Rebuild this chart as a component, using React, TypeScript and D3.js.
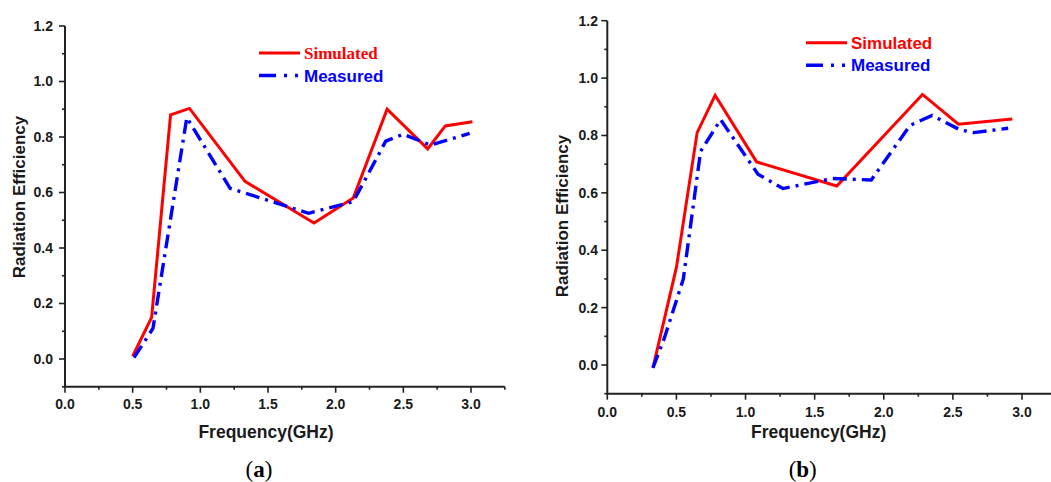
import React, { useEffect, useRef } from "react";
import * as d3 from "d3";

// ---- data ----
const simA_x = [0.5, 0.64, 0.78, 0.92, 1.33, 1.84, 2.13, 2.38, 2.68, 2.81, 3.01];
const simA_y = [0.01, 0.15, 0.88, 0.903, 0.64, 0.49, 0.58, 0.9, 0.757, 0.84, 0.855];
const measA_x = [0.51, 0.65, 0.9, 1.22, 1.8, 2.13, 2.37, 2.5, 2.7, 2.99];
const measA_y = [0.005, 0.11, 0.87, 0.615, 0.525, 0.567, 0.785, 0.81, 0.771, 0.813];

const simB_x = [0.33, 0.5, 0.65, 0.78, 1.08, 1.66, 2.28, 2.54, 2.93];
const simB_y = [-0.01, 0.34, 0.81, 0.94, 0.708, 0.624, 0.943, 0.839, 0.857];
const measB_x = [0.33, 0.41, 0.55, 0.675, 0.82, 1.09, 1.27, 1.63, 1.91, 2.19, 2.35, 2.55, 2.65, 2.9];
const measB_y = [-0.01, 0.09, 0.3, 0.745, 0.855, 0.665, 0.615, 0.65, 0.645, 0.835, 0.87, 0.82, 0.81, 0.825];

const xTicks = [0, 0.5, 1.0, 1.5, 2.0, 2.5, 3.0];
const yTicks = [0, 0.2, 0.4, 0.6, 0.8, 1.0, 1.2];
const seriesNames = ["Simulated", "Measured"];
const captions = ["a", "b"];

const SANS = "'Liberation Sans', Arial, sans-serif";
const SERIF = "'Liberation Serif', 'Times New Roman', serif";

type Panel = {
  x0: number; x1: number; yTop: number; yZero: number;
  sim: [number[], number[]]; meas: [number[], number[]];
  xLabelBase: number; yLabelRight: number;
  xTitleX: number; xTitleY: number; yTitleX: number; yTitleY: number;
  capX: number; capY: number;
  legX: number; legY: number; caption: string; serifSim: boolean;
};

const panels: Panel[] = [
  {
    x0: 65, x1: 471, yTop: 26, yZero: 359,
    sim: [simA_x, simA_y], meas: [measA_x, measA_y],
    xLabelBase: 409, yLabelRight: 53,
    xTitleX: 266, xTitleY: 438, yTitleX: 19, yTitleY: 197,
    capX: 259, capY: 477, legX: 259, legY: 53, caption: captions[0], serifSim: true,
  },
  {
    x0: 607.3, x1: 1022, yTop: 20.7, yZero: 365,
    sim: [simB_x, simB_y], meas: [measB_x, measB_y],
    xLabelBase: 417, yLabelRight: 598,
    xTitleX: 818.7, xTitleY: 438, yTitleX: 562, yTitleY: 216,
    capX: 802.7, capY: 477, legX: 806, legY: 42.7, caption: captions[1], serifSim: false,
  },
];

export default function App() {
  const ref = useRef<SVGSVGElement | null>(null);

  useEffect(() => {
    const svg = d3.select(ref.current);
    svg.selectAll("*").remove();
    svg.append("rect").attr("width", 1051).attr("height", 482).attr("fill", "#fff");

    panels.forEach((p) => {
      const x = d3.scaleLinear().domain([0, 3]).range([p.x0, p.x1]);
      const y = d3.scaleLinear().domain([0, 1.2]).range([p.yZero, p.yTop]);
      const xMax = 3.25, yMin = -0.1;
      const g = svg.append("g");
      const axisColor = "#222";

      // axes lines
      g.append("line").attr("x1", x(0)).attr("x2", x(0)).attr("y1", y(1.2)).attr("y2", y(yMin))
        .attr("stroke", axisColor).attr("stroke-width", 2);
      g.append("line").attr("x1", x(0)).attr("x2", x(xMax)).attr("y1", y(yMin)).attr("y2", y(yMin))
        .attr("stroke", axisColor).attr("stroke-width", 2);

      // y ticks
      const yMinor = d3.range(-0.1, 1.2001, 0.1);
      yMinor.forEach((v) => {
        const major = Math.abs(Math.round(v * 10) % 2) === 0;
        g.append("line").attr("x1", x(0)).attr("x2", x(0) - (major ? 6 : 3))
          .attr("y1", y(v)).attr("y2", y(v)).attr("stroke", axisColor).attr("stroke-width", 1.6);
      });
      yTicks.forEach((v) => {
        g.append("text").attr("x", p.yLabelRight).attr("y", y(v)).attr("dy", "0.35em")
          .attr("text-anchor", "end").attr("font-family", SANS).attr("font-weight", "bold")
          .attr("font-size", 14).attr("fill", "#1a1a1a").text(v.toFixed(1));
      });
      // x ticks
      d3.range(0, xMax + 0.001, 0.25).forEach((v) => {
        const major = Math.abs((v * 4) % 2) < 0.01;
        g.append("line").attr("x1", x(v)).attr("x2", x(v)).attr("y1", y(yMin))
          .attr("y2", y(yMin) + (major ? 6 : 3)).attr("stroke", axisColor).attr("stroke-width", 1.6);
      });
      xTicks.forEach((v) => {
        g.append("text").attr("x", x(v)).attr("y", p.xLabelBase).attr("text-anchor", "middle")
          .attr("font-family", SANS).attr("font-weight", "bold").attr("font-size", 14)
          .attr("fill", "#1a1a1a").text(v.toFixed(1));
      });

      // titles
      g.append("text").attr("x", p.xTitleX).attr("y", p.xTitleY).attr("text-anchor", "middle")
        .attr("font-family", SANS).attr("font-weight", "bold").attr("font-size", 17.5)
        .attr("fill", "#1a1a1a").text("Frequency(GHz)");
      g.append("text").attr("transform", `translate(${p.yTitleX},${p.yTitleY}) rotate(-90)`)
        .attr("text-anchor", "middle").attr("dy", "0.35em")
        .attr("font-family", SANS).attr("font-weight", "bold").attr("font-size", 17)
        .attr("fill", "#1a1a1a").text("Radiation Efficiency");

      // lines
      const line = d3.line<[number, number]>().x((d) => x(d[0])).y((d) => y(d[1]));
      const simPts = p.sim[0].map((v, i) => [v, p.sim[1][i]] as [number, number]);
      const measPts = p.meas[0].map((v, i) => [v, p.meas[1][i]] as [number, number]);
      g.append("path").attr("d", line(simPts)).attr("fill", "none").attr("stroke", "#ff0000")
        .attr("stroke-width", 3).attr("stroke-linejoin", "miter");
      g.append("path").attr("d", line(measPts)).attr("fill", "none").attr("stroke", "#0000ff")
        .attr("stroke-width", 3.4).attr("stroke-dasharray", "14,6,3,6");

      // legend
      g.append("line").attr("x1", p.legX).attr("x2", p.legX + 41).attr("y1", p.legY).attr("y2", p.legY)
        .attr("stroke", "#ff0000").attr("stroke-width", 3);
      g.append("line").attr("x1", p.legX).attr("x2", p.legX + 41).attr("y1", p.legY + 22.5).attr("y2", p.legY + 22.5)
        .attr("stroke", "#0000ff").attr("stroke-width", 3.4).attr("stroke-dasharray", "17,8,3,8,3,10");
      g.append("text").attr("x", p.legX + 45).attr("y", p.legY).attr("dy", "0.36em")
        .attr("font-family", p.serifSim ? SERIF : SANS).attr("font-weight", "bold")
        .attr("font-size", 17).attr("fill", "#ff0000").text(seriesNames[0]);
      g.append("text").attr("x", p.legX + 45).attr("y", p.legY + 22.5).attr("dy", "0.36em")
        .attr("font-family", SANS).attr("font-weight", "bold")
        .attr("font-size", 17).attr("fill", "#0000ff").text(seriesNames[1]);

      // caption
      const cap = g.append("text").attr("x", p.capX).attr("y", p.capY).attr("text-anchor", "middle")
        .attr("font-family", SERIF).attr("font-size", 23).attr("fill", "#000");
      cap.append("tspan").text("(");
      cap.append("tspan").attr("font-weight", "bold").text(p.caption);
      cap.append("tspan").text(")");
    });
  }, []);

  return (
    <svg ref={ref} width={1051} height={482}
      style={{ position: "absolute", left: 0, top: 0, display: "block" }} />
  );
}
